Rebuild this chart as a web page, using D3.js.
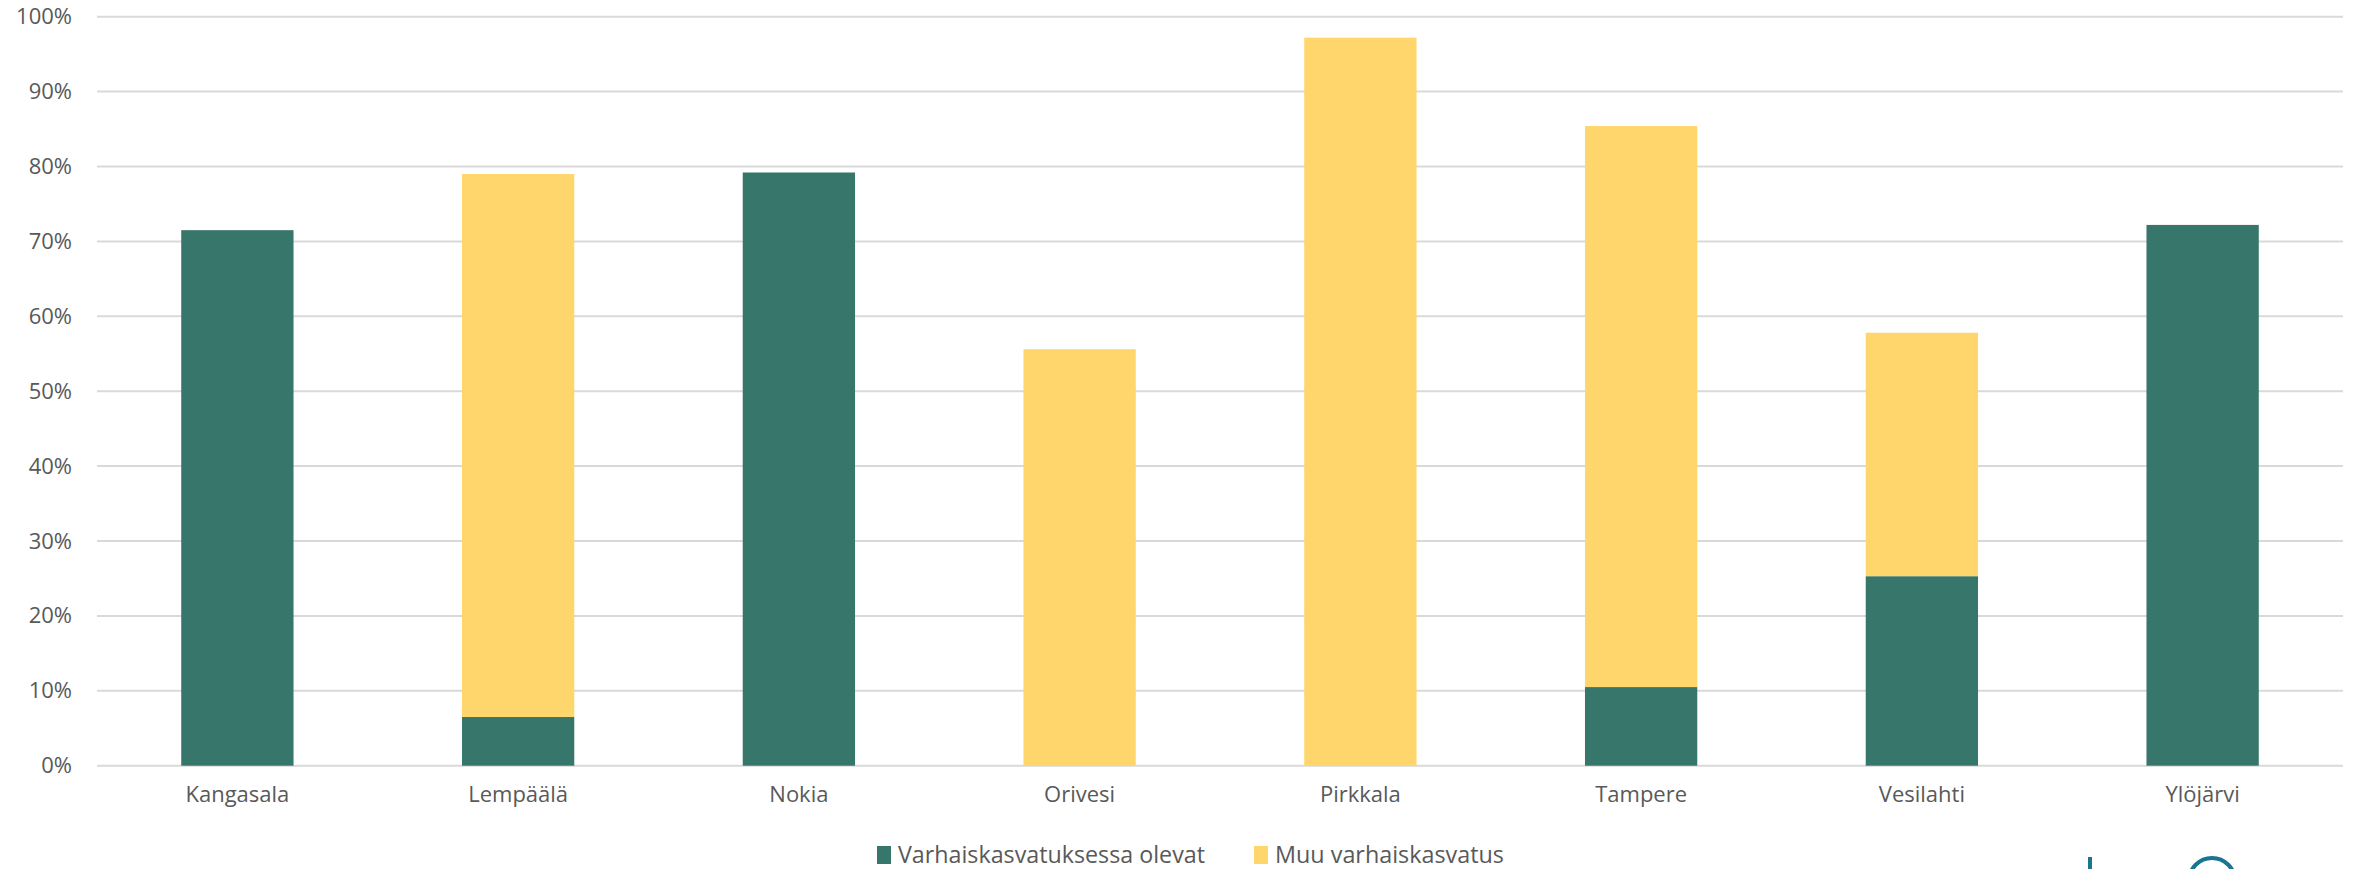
<!DOCTYPE html>
<html>
<head>
<meta charset="utf-8">
<script src="https://cdn.jsdelivr.net/npm/d3@7"></script>
<style>
  body { margin: 0; background: #fff; }
  text { font-family: "Open Sans", sans-serif; fill: #595959; }
</style>
</head>
<body>
<main></main>
<script>
// data (percent)
let kunnat = ["Kangasala", "Lempäälä", "Nokia", "Orivesi", "Pirkkala", "Tampere", "Vesilahti", "Ylöjärvi"]
let varhais = [71.5, 6.5, 79.2, 0, 0, 10.5, 25.3, 72.2]
let muu = [0, 72.5, 0, 55.6, 97.2, 74.9, 32.5, 0]
let sarjat = ["Varhaiskasvatuksessa olevat", "Muu varhaiskasvatus"]
let yTicks = [0, 10, 20, 30, 40, 50, 60, 70, 80, 90, 100]

let colors = ["#37766b", "#ffd66b"]

let svg = d3.select('main')
    .append('svg')
    .attr('width', 2359)
    .attr('height', 869)

let x = d3.scaleBand()
    .domain(kunnat)
    .range([97, 2343])
    .paddingInner(0.6)
    .paddingOuter(0.3)

let y = d3.scaleLinear()
    .domain([0, 100])
    .range([765.7, 16.7])

// gridlines
svg.append("g")
    .selectAll("line")
    .data(yTicks)
    .enter()
    .append("line")
    .attr("x1", 97)
    .attr("x2", 2343)
    .attr("y1", d => y(d))
    .attr("y2", d => y(d))
    .style("stroke", "#d9d9d9")
    .style("stroke-width", 2)

// y axis labels
let yAxis = svg.append("g")
    .attr("transform", "translate(72,0)")
    .call(d3.axisLeft(y).tickValues(yTicks).tickSize(0).tickPadding(0).tickFormat(d => d + "%"))
yAxis.select(".domain").remove()
yAxis.selectAll("text")
    .style("font-size", "22px")
    .style("fill", "#595959")
    .style("font-family", "Open Sans")

// stacked data
let rows = kunnat.map((k, i) => ({ kunta: k, a: varhais[i], b: muu[i] }))
let stack = d3.stack().keys(["a", "b"])(rows)

svg.append("g")
    .selectAll("g")
    .data(stack)
    .enter()
    .append("g")
    .style("fill", (d, i) => colors[i])
    .selectAll("rect")
    .data(d => d)
    .enter()
    .append("rect")
    .attr("x", d => x(d.data.kunta))
    .attr("width", x.bandwidth())
    .attr("y", d => y(d[1]))
    .attr("height", d => y(d[0]) - y(d[1]))

// x axis labels
let xAxis = svg.append("g")
    .attr("transform", "translate(0,786)")
    .call(d3.axisBottom(x).tickSize(0).tickPadding(0))
xAxis.select(".domain").remove()
xAxis.selectAll("text")
    .style("font-size", "22px")
    .style("fill", "#595959")
    .style("font-family", "Open Sans")

// legend
let legendX = [877, 1254]
let legend = svg.append("g")
    .selectAll("g")
    .data(sarjat)
    .enter()
    .append("g")
    .attr("transform", (d, i) => `translate(${legendX[i]},846)`)
legend.append("rect")
    .attr("width", 14)
    .attr("height", 18)
    .style("fill", (d, i) => colors[i])
legend.append("text")
    .attr("x", 21)
    .attr("y", 17)
    .attr("textLength", (d, i) => i == 0 ? 307 : 229)
    .attr("lengthAdjust", "spacingAndGlyphs")
    .style("font-size", "24px")
    .text(d => d)

// partly visible logo at the bottom edge
svg.append("line")
    .attr("x1", 2090).attr("x2", 2090)
    .attr("y1", 857).attr("y2", 869)
    .style("stroke", "#1b7590")
    .style("stroke-width", 4)
svg.append("circle")
    .attr("cx", 2212).attr("cy", 881)
    .attr("r", 23)
    .style("fill", "none")
    .style("stroke", "#1b7590")
    .style("stroke-width", 4)
</script>
</body>
</html>
